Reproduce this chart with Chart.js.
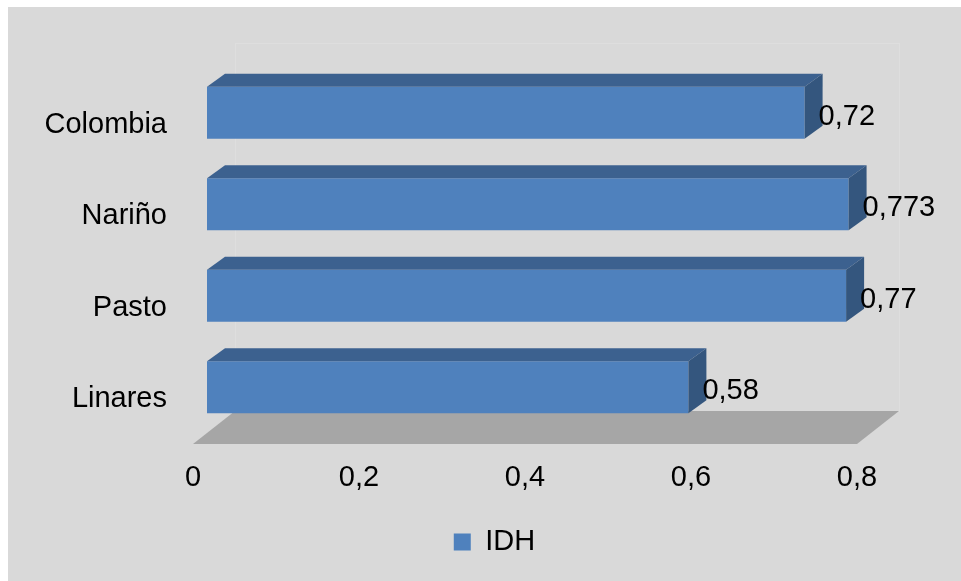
<!DOCTYPE html>
<html>
<head>
<meta charset="utf-8">
<script src="https://cdn.jsdelivr.net/npm/chart.js@4/dist/chart.umd.min.js"></script>
<style>
  html, body { margin: 0; padding: 0; background: #ffffff; }
  #wrap { width: 961px; height: 581px; }
</style>
</head>
<body>
<div id="wrap"><canvas id="chart" width="961" height="581"></canvas></div>
<script>
// --- datos ---
const categories = ["Colombia", "Nariño", "Pasto", "Linares"];
const idhValues = [0.72, 0.773, 0.77, 0.58];
const idhLabels = ["0,72", "0,773", "0,77", "0,58"];
const xTicks = [0, 0.2, 0.4, 0.6, 0.8];

const FONT = "'Liberation Sans', Arial, sans-serif";
const DEPTH_X = 18, DEPTH_Y = -13;      // profundidad de las barras
const FLOOR_X = 42, FLOOR_Y = -33;      // profundidad del piso

// fondo gris y piso 3D
const backdrop = {
  id: "backdrop",
  beforeDraw(chart) {
    const ctx = chart.ctx;
    ctx.save();
    ctx.fillStyle = "#ffffff";
    ctx.fillRect(0, 0, chart.width, chart.height);
    ctx.fillStyle = "#d9d9d9";
    ctx.fillRect(8, 7, chart.width - 8, chart.height - 7);
    ctx.restore();
  },
  beforeDatasetsDraw(chart) {
    const ctx = chart.ctx;
    const xs = chart.scales.x;
    const x0 = xs.getPixelForValue(xTicks[0]) - 14;
    const x1 = xs.getPixelForValue(xTicks[xTicks.length - 1]) - 14;
    const yf = chart.chartArea.bottom + 11;
    const yb = yf + FLOOR_Y;
    ctx.save();
    // pared del fondo (apenas visible)
    ctx.strokeStyle = "#dedede";
    ctx.lineWidth = 1;
    ctx.strokeRect(x0 + FLOOR_X + 0.5, 43.5, x1 - x0, yb - 43);
    // piso
    ctx.fillStyle = "#a6a6a6";
    ctx.beginPath();
    ctx.moveTo(x0, yf);
    ctx.lineTo(x0 + FLOOR_X, yb);
    ctx.lineTo(x1 + FLOOR_X, yb);
    ctx.lineTo(x1, yf);
    ctx.closePath();
    ctx.fill();
    ctx.restore();
  }
};

// caras superior y lateral + etiquetas de datos
const bars3d = {
  id: "bars3d",
  afterDatasetsDraw(chart) {
    const ctx = chart.ctx;
    const meta = chart.getDatasetMeta(0);
    ctx.save();
    meta.data.forEach((bar, i) => {
      const { x, y, base, height } = bar.getProps(["x", "y", "base", "height"], true);
      const top = y - height / 2;
      const bottom = y + height / 2;
      // cara superior
      ctx.fillStyle = "#3c618f";
      ctx.beginPath();
      ctx.moveTo(base, top);
      ctx.lineTo(base + DEPTH_X, top + DEPTH_Y);
      ctx.lineTo(x + DEPTH_X, top + DEPTH_Y);
      ctx.lineTo(x, top);
      ctx.closePath();
      ctx.fill();
      // cara lateral
      ctx.fillStyle = "#34567e";
      ctx.beginPath();
      ctx.moveTo(x, top);
      ctx.lineTo(x + DEPTH_X, top + DEPTH_Y);
      ctx.lineTo(x + DEPTH_X, bottom + DEPTH_Y);
      ctx.lineTo(x, bottom);
      ctx.closePath();
      ctx.fill();
      // etiqueta
      ctx.fillStyle = "#000000";
      ctx.font = "29px " + FONT;
      ctx.textAlign = "left";
      ctx.textBaseline = "middle";
      ctx.fillText(idhLabels[i], x + 14, y + 4);
    });
    ctx.restore();
  }
};

// la leyenda va un poco a la derecha del centro
const legendShift = {
  id: "legendShift",
  afterLayout(chart) {
    if (!chart.legend) return;
    chart.legend.left += 59;
    chart.legend.right += 59;
  }
};

new Chart(document.getElementById("chart"), {
  type: "bar",
  data: {
    labels: categories,
    datasets: [{
      label: "IDH",
      data: idhValues,
      backgroundColor: "#4f81bd",
      borderWidth: 0,
      categoryPercentage: 1,
      barPercentage: 0.568
    }]
  },
  options: {
    indexAxis: "y",
    responsive: false,
    animation: false,
    layout: { padding: { top: 67, right: 90, bottom: 14.5, left: 0 } },
    scales: {
      x: {
        min: 0,
        max: 0.8,
        grid: { display: false, drawTicks: false },
        border: { display: false },
        afterBuildTicks: (axis) => { axis.ticks = xTicks.map((v) => ({ value: v })); },
        afterFit: (axis) => { axis.height = 84.5; },
        ticks: {
          color: "#000000",
          font: { family: FONT, size: 29 },
          padding: 28,
          labelOffset: -14,
          maxRotation: 0,
          callback: (v) => String(Math.round(v * 10) / 10).replace(".", ",")
        }
      },
      y: {
        grid: { display: false, drawTicks: false },
        border: { display: false },
        afterFit: (axis) => { axis.width = 207; },
        ticks: {
          color: "#000000",
          font: { family: FONT, size: 29 },
          padding: 40,
          labelOffset: 12
        }
      }
    },
    plugins: {
      legend: {
        position: "bottom",
        labels: {
          color: "#000000",
          font: { family: FONT, size: 29 },
          boxWidth: 17,
          boxHeight: 17,
          padding: 10
        }
      },
      tooltip: { enabled: false }
    }
  },
  plugins: [backdrop, bars3d, legendShift]
});
</script>
</body>
</html>
